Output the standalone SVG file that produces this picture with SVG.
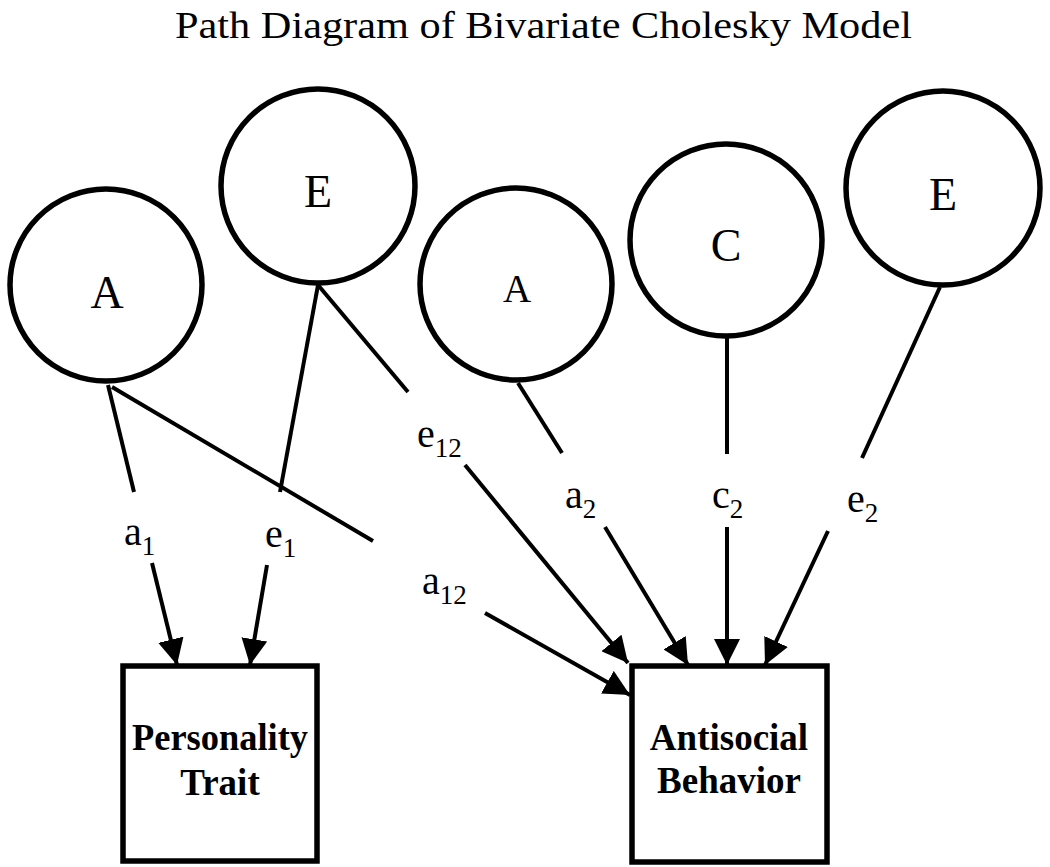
<svg xmlns="http://www.w3.org/2000/svg" width="1050" height="867" viewBox="0 0 1050 867">
<defs>
<marker id="arr" markerUnits="userSpaceOnUse" markerWidth="26" markerHeight="26" refX="26" refY="13" orient="auto">
<path d="M0,0 L26,13 L0,26 Z" fill="#000"/>
</marker>
<style>
.lat{fill:#fff;stroke:#000;stroke-width:5.5}
.box{fill:#fff;stroke:#000;stroke-width:5.5}
.ltxt{font-family:"Liberation Serif","Times New Roman",serif;font-size:46px;fill:#000;text-anchor:middle}
.btxt{font-family:"Liberation Serif","Times New Roman",serif;font-size:37px;font-weight:bold;fill:#000;text-anchor:middle}
.edge{stroke:#000;stroke-width:4;fill:none}
.arrow{stroke:#000;stroke-width:4;fill:none;marker-end:url(#arr)}
.plab{font-family:"Liberation Serif","Times New Roman",serif;font-size:40px;fill:#000}
.sub{font-size:27px}
.title{font-family:"Liberation Serif","Times New Roman",serif;font-size:38px;fill:#000}
</style>
</defs>
<rect width="1050" height="867" fill="#fff"/>
<text class="title" x="175" y="38" textLength="737" lengthAdjust="spacingAndGlyphs">Path Diagram of Bivariate Cholesky Model</text>

<g id="connectors">
<line class="edge" x1="108" y1="385" x2="134" y2="492"/>
<line class="edge" x1="112" y1="387" x2="373" y2="541"/>
<line class="edge" x1="318" y1="285" x2="280" y2="492"/>
<line class="edge" x1="318" y1="285" x2="408" y2="392"/>
<line class="edge" x1="518" y1="383" x2="562" y2="453"/>
<line class="edge" x1="727" y1="338" x2="727" y2="454"/>
<line class="edge" x1="940" y1="287" x2="862" y2="458"/>
<line class="arrow" x1="152" y1="563" x2="177" y2="665"/>
<line class="arrow" x1="267" y1="565" x2="250" y2="665"/>
<line class="arrow" x1="465" y1="465" x2="628" y2="663"/>
<line class="arrow" x1="485" y1="613" x2="630" y2="695"/>
<line class="arrow" x1="605" y1="527" x2="688" y2="665"/>
<line class="arrow" x1="727" y1="527" x2="727" y2="665"/>
<line class="arrow" x1="828" y1="531" x2="765" y2="665"/>
<text class="plab" x="124" y="545">a<tspan class="sub" dy="10">1</tspan></text>
<text class="plab" x="265" y="547">e<tspan class="sub" dy="10">1</tspan></text>
<text class="plab" x="417" y="447">e<tspan class="sub" dy="10">12</tspan></text>
<text class="plab" x="422" y="594">a<tspan class="sub" dy="10">12</tspan></text>
<text class="plab" x="565" y="508">a<tspan class="sub" dy="10">2</tspan></text>
<text class="plab" x="712" y="508">c<tspan class="sub" dy="10">2</tspan></text>
<text class="plab" x="847" y="512">e<tspan class="sub" dy="10">2</tspan></text>
</g>

<g id="A1"><circle class="lat" cx="106" cy="285" r="96"/><text class="ltxt" x="107" y="308">A</text></g>
<g id="E1"><circle class="lat" cx="318" cy="186" r="97"/><text class="ltxt" x="318" y="207">E</text></g>
<g id="A2"><circle class="lat" cx="516" cy="284" r="96"/><text class="ltxt" x="517" y="302" style="font-size:39px">A</text></g>
<g id="C2"><circle class="lat" cx="726" cy="240" r="96"/><text class="ltxt" x="726" y="261">C</text></g>
<g id="E2"><circle class="lat" cx="943" cy="188" r="97"/><text class="ltxt" x="943" y="210">E</text></g>

<g id="personality"><rect class="box" x="123" y="666" width="194" height="195"/>
<text class="btxt" x="220" y="750" textLength="176" lengthAdjust="spacingAndGlyphs">Personality</text><text class="btxt" x="220" y="795">Trait</text></g>
<g id="antisocial"><rect class="box" x="632" y="666" width="195" height="196"/>
<text class="btxt" x="729" y="750">Antisocial</text><text class="btxt" x="729" y="793">Behavior</text></g>
</svg>
